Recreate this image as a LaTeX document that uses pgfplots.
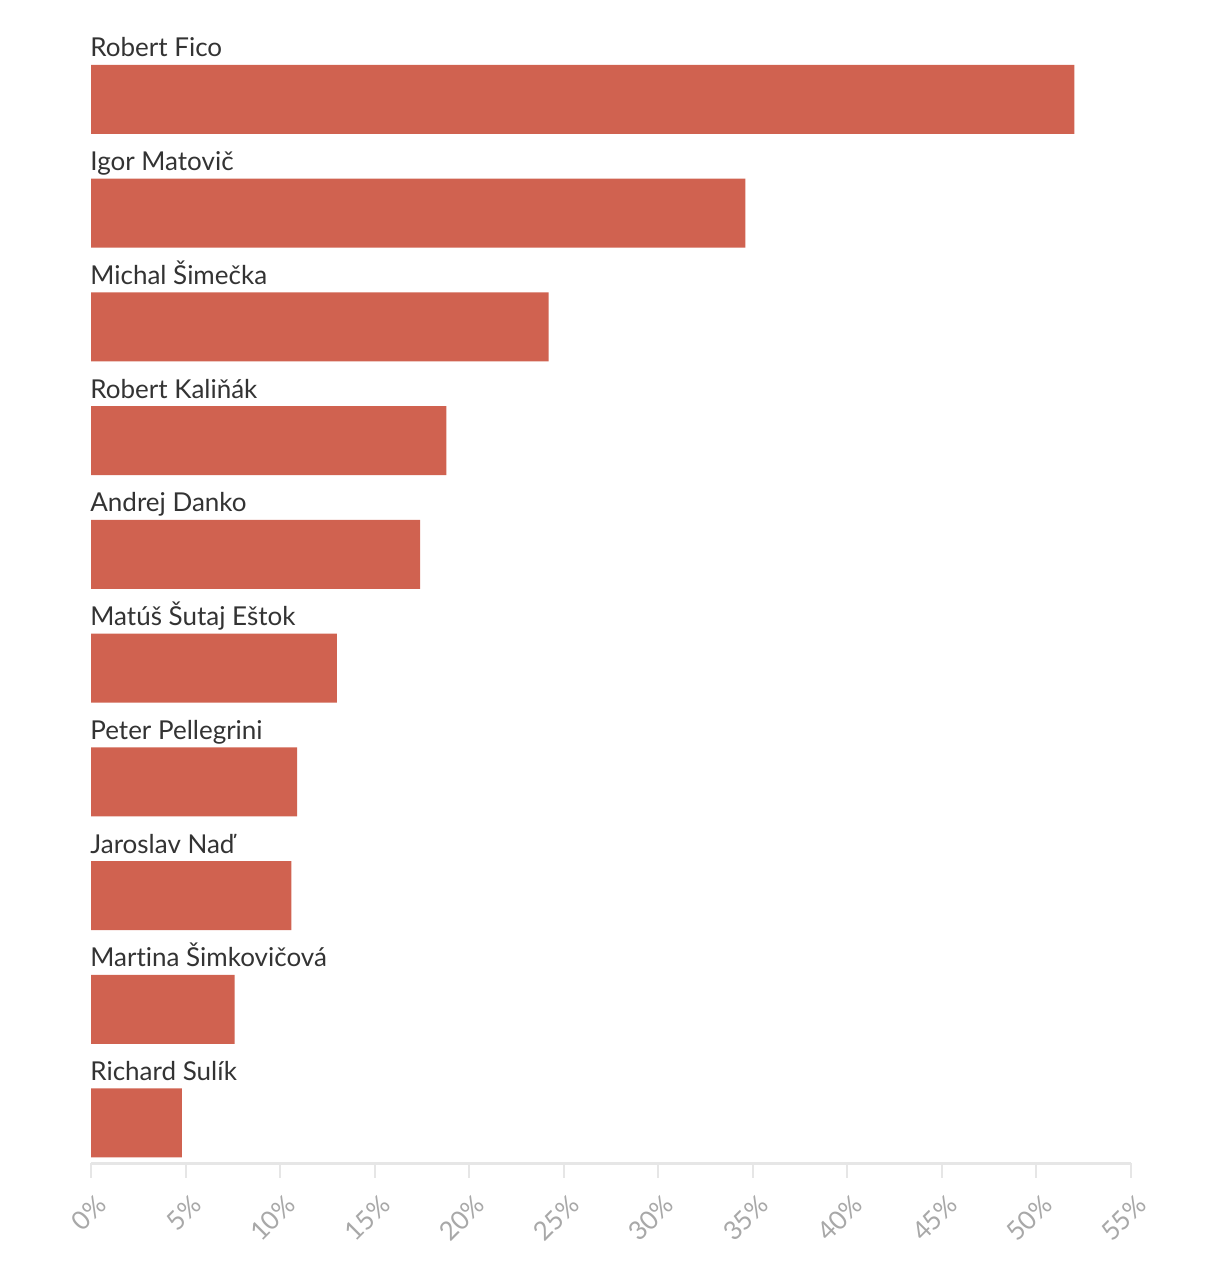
\documentclass[border=0pt]{standalone}
\usepackage{pgfplots}
\pgfplotsset{compat=1.18}
\usepackage{fontspec}
\setmainfont{Lato}[Ligatures=NoCommon]
\definecolor{barc}{HTML}{D06250}
\definecolor{txt}{HTML}{333333}
\definecolor{tickc}{HTML}{A8A8A8}
\definecolor{axc}{HTML}{E6E6E6}
\begin{document}
\begin{tikzpicture}[x=1pt,y=1pt]
\useasboundingbox (0,0) rectangle (610,636);
\begin{axis}[
  at={(45.5pt,54.5pt)}, anchor=south west,
  scale only axis,
  width=520pt, height=581.5pt,
  xmin=0, xmax=55, ymin=-0.352, ymax=9.875,
  xbar, bar width=34.5pt,
  axis x line*=bottom, axis y line*=left,
  y axis line style={draw=none},
  x axis line style={draw=axc, line width=1.5pt, -},
  xtick={0,5,...,55},
  xticklabel={\pgfmathprintnumber{\tick}\%},
  /pgf/number format/assume math mode=true,
  tick align=outside,
  major tick length=7.5pt,
  xtick style={draw=axc, line width=1pt},
  ytick style={draw=none},
  xticklabel style={xshift=5.5pt, yshift=-11pt, rotate=45, anchor=east, inner sep=0pt, font=\fontsize{13}{15}\selectfont, text=tickc},
  ytick={0,...,9},
  yticklabels={Richard Sulík, Mart\kern0pt ina Šimkovičová, Jaroslav Naď, Peter Pellegrini, Matúš Šutaj Eštok, Andrej Danko, Robert Kaliňák, Michal Šimečka, Igor Matovič, Robert Fico},
  yticklabel style={anchor=base west, inner sep=0pt, xshift=7pt, yshift=21.25pt, font=\fontsize{13}{15}\selectfont, text=txt},
  clip=false,
]
\addplot[draw=none, fill=barc] coordinates {(52.0,9) (34.6,8) (24.2,7) (18.8,6) (17.4,5) (13.0,4) (10.9,3) (10.6,2) (7.6,1) (4.8,0)};
\end{axis}
\end{tikzpicture}
\end{document}
